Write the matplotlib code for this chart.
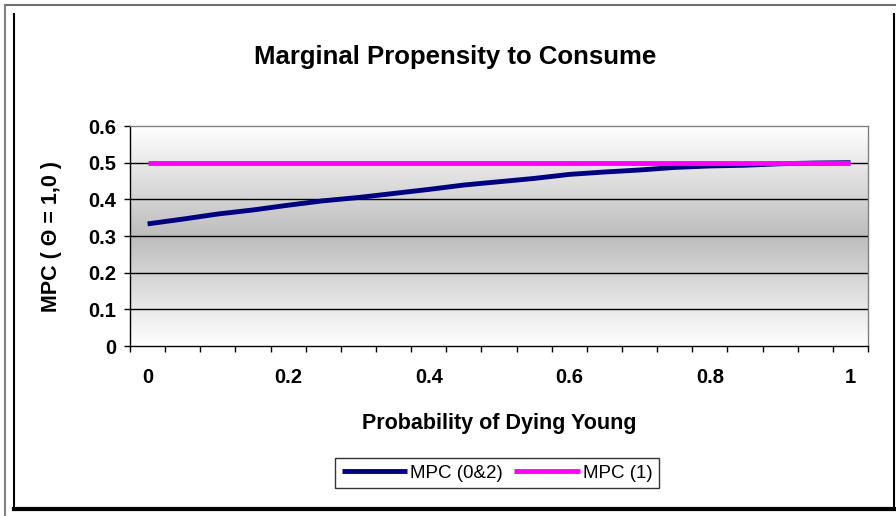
import matplotlib
matplotlib.use('Agg')
import matplotlib.pyplot as plt
import numpy as np
from matplotlib.lines import Line2D

plt.rcParams['font.family'] = ['Liberation Sans', 'DejaVu Sans']

# data
prob = [0, 0.05, 0.1, 0.15, 0.2, 0.25, 0.3, 0.35, 0.4, 0.45, 0.5,
        0.55, 0.6, 0.65, 0.7, 0.75, 0.8, 0.85, 0.9, 0.95, 1.0]
mpc_02 = [0.333, 0.346, 0.360, 0.371, 0.384, 0.396, 0.405, 0.416, 0.427, 0.439, 0.448,
          0.457, 0.468, 0.4745, 0.480, 0.487, 0.491, 0.493, 0.497, 0.499, 0.500]
mpc_1 = [0.5] * 21
tick_labels = ['0', '0.2', '0.4', '0.6', '0.8', '1']

W, H = 896, 516
fig = plt.figure(figsize=(W / 100, H / 100), dpi=100)
fig.patch.set_facecolor('white')

# plot area in pixels: left 130, right 868, top 126, bottom 346
ax = fig.add_axes([130 / W, 1 - 346 / H, 738 / W, 220 / H])

x = np.arange(len(prob))
ax.set_xlim(-0.5, len(prob) - 0.5)
ax.set_ylim(0, 0.6)

# gradient background: white at top and bottom, gray in middle
t = np.linspace(0, 1, 200)
g = 1 - (1 - np.abs(2 * t - 1)) * 0.26
img = np.dstack([g, g, g]).reshape(200, 1, 3)
ax.imshow(img, extent=[-0.5, len(prob) - 0.5, 0, 0.6], aspect='auto', zorder=0, origin='lower')

for v in [0.1, 0.2, 0.3, 0.4, 0.5]:
    ax.axhline(v, color='black', lw=1, zorder=1)

ax.plot(x, mpc_02, color='#000080', lw=3.5, zorder=3, label='MPC (0&2)', solid_capstyle='butt')
ax.plot(x, mpc_1, color='#ff00ff', lw=3.5, zorder=4, label='MPC (1)', solid_capstyle='butt')

# spines
ax.spines['top'].set_color('#808080')
ax.spines['right'].set_color('#808080')
ax.spines['left'].set_color('black')
ax.spines['bottom'].set_color('black')
for s in ax.spines.values():
    s.set_linewidth(1)

ax.set_yticks([0, 0.1, 0.2, 0.3, 0.4, 0.5, 0.6])
ax.set_yticklabels(['0', '0.1', '0.2', '0.3', '0.4', '0.5', '0.6'], fontsize=14.5, fontweight='bold')
ax.tick_params(axis='y', direction='out', length=4, width=1, pad=6)

# category boundaries get the tick marks, labels every 4th category
ax.set_xticks(np.arange(-0.5, len(prob), 1))
ax.set_xticklabels([])
ax.set_xticks(x[::4], minor=True)
ax.set_xticklabels(tick_labels, minor=True, fontsize=14.5, fontweight='bold')
ax.tick_params(axis='x', which='major', direction='out', length=4, width=1)
ax.tick_params(axis='x', which='minor', length=0, pad=16)

ax.set_xlabel('Probability of Dying Young', fontsize=15.5, fontweight='bold')
ax.xaxis.set_label_coords(0.5, -0.305)
ax.set_ylabel('MPC ( \u0398 = 1,0 )', fontsize=15.5, fontweight='bold')
ax.yaxis.set_label_coords(-0.092, 0.5)

fig.text(455 / W, 1 - 57 / H, 'Marginal Propensity to Consume', fontsize=18.5,
         fontweight='bold', ha='center', va='center')

leg = fig.legend(loc='center', bbox_to_anchor=(497 / W, 1 - 473 / H), ncol=2,
                 fontsize=13.5, frameon=True, fancybox=False, handlelength=3.5,
                 handletextpad=0.15, columnspacing=0.6, borderpad=0.35)
leg.get_frame().set_edgecolor('black')
leg.get_frame().set_linewidth(1)

# window / chart frame
def px(xp, yp):
    return [v / W for v in xp], [1 - v / H for v in yp]

for xs, ys, c, lw in [([5, 896], [5, 5], '#707070', 1.5),
                      ([5, 5], [5, 516], '#808080', 1.5),
                      ([14, 14], [14, 510], 'black', 1.5),
                      ([14, 896], [509, 509], 'black', 3),
                      ([894, 894], [14, 510], 'black', 1.5)]:
    xx, yy = px(xs, ys)
    fig.add_artist(Line2D(xx, yy, color=c, lw=lw, transform=fig.transFigure))

fig.savefig('out.png', dpi=100)
